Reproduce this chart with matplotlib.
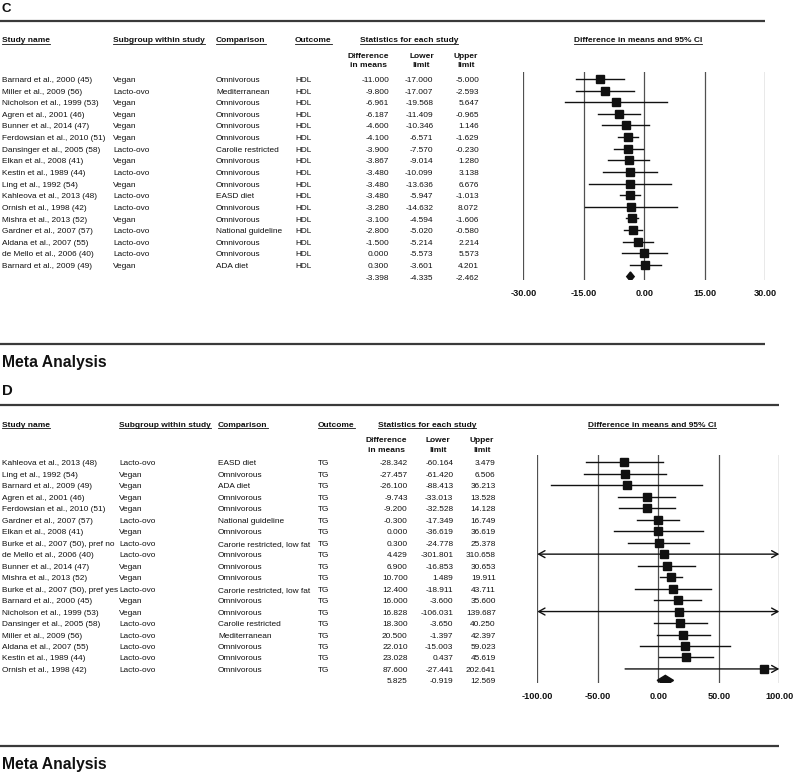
import matplotlib
matplotlib.use("Agg")
import matplotlib.pyplot as plt

plt.rcParams['font.family'] = ['Liberation Sans', 'DejaVu Sans']

# ---------------- panel C : HDL ----------------
c_study = ["Barnard et al., 2000 (45)", "Miller et al., 2009 (56)", "Nicholson et al., 1999 (53)",
           "Agren et al., 2001 (46)", "Bunner et al., 2014 (47)", "Ferdowsian et al., 2010 (51)",
           "Dansinger et al., 2005 (58)", "Elkan et al., 2008 (41)", "Kestin et al., 1989 (44)",
           "Ling et al., 1992 (54)", "Kahleova et al., 2013 (48)", "Ornish et al., 1998 (42)",
           "Mishra et al., 2013 (52)", "Gardner et al., 2007 (57)", "Aldana et al., 2007 (55)",
           "de Mello et al., 2006 (40)", "Barnard et al., 2009 (49)"]
c_subgroup = ["Vegan", "Lacto-ovo", "Vegan", "Vegan", "Vegan", "Vegan", "Lacto-ovo", "Vegan",
              "Lacto-ovo", "Vegan", "Lacto-ovo", "Lacto-ovo", "Vegan", "Lacto-ovo", "Lacto-ovo",
              "Lacto-ovo", "Vegan"]
c_comparison = ["Omnivorous", "Mediterranean", "Omnivorous", "Omnivorous", "Omnivorous",
                "Omnivorous", "Carolie restricted", "Omnivorous", "Omnivorous", "Omnivorous",
                "EASD diet", "Omnivorous", "Omnivorous", "National guideline", "Omnivorous",
                "Omnivorous", "ADA diet"]
c_diff = [-11.000, -9.800, -6.961, -6.187, -4.600, -4.100, -3.900, -3.867, -3.480, -3.480,
          -3.480, -3.280, -3.100, -2.800, -1.500, 0.000, 0.300]
c_lower = [-17.000, -17.007, -19.568, -11.409, -10.346, -6.571, -7.570, -9.014, -10.099,
           -13.636, -5.947, -14.632, -4.594, -5.020, -5.214, -5.573, -3.601]
c_upper = [-5.000, -2.593, 5.647, -0.965, 1.146, -1.629, -0.230, 1.280, 3.138, 6.676,
           -1.013, 8.072, -1.606, -0.580, 2.214, 5.573, 4.201]
c_summary = [-3.398, -4.335, -2.462]
c_ticks = [-30, -15, 0, 15, 30]

# ---------------- panel D : TG ----------------
d_study = ["Kahleova et al., 2013 (48)", "Ling et al., 1992 (54)", "Barnard et al., 2009 (49)",
           "Agren et al., 2001 (46)", "Ferdowsian et al., 2010 (51)", "Gardner et al., 2007 (57)",
           "Elkan et al., 2008 (41)", "Burke et al., 2007 (50), pref no", "de Mello et al., 2006 (40)",
           "Bunner et al., 2014 (47)", "Mishra et al., 2013 (52)", "Burke et al., 2007 (50), pref yes",
           "Barnard et al., 2000 (45)", "Nicholson et al., 1999 (53)", "Dansinger et al., 2005 (58)",
           "Miller et al., 2009 (56)", "Aldana et al., 2007 (55)", "Kestin et al., 1989 (44)",
           "Ornish et al., 1998 (42)"]
d_subgroup = ["Lacto-ovo", "Vegan", "Vegan", "Vegan", "Vegan", "Lacto-ovo", "Vegan", "Lacto-ovo",
              "Lacto-ovo", "Vegan", "Vegan", "Lacto-ovo", "Vegan", "Vegan", "Lacto-ovo",
              "Lacto-ovo", "Lacto-ovo", "Lacto-ovo", "Lacto-ovo"]
d_comparison = ["EASD diet", "Omnivorous", "ADA diet", "Omnivorous", "Omnivorous",
                "National guideline", "Omnivorous", "Carorie restricted, low fat", "Omnivorous",
                "Omnivorous", "Omnivorous", "Carorie restricted, low fat", "Omnivorous",
                "Omnivorous", "Carolie restricted", "Mediterranean", "Omnivorous", "Omnivorous",
                "Omnivorous"]
d_diff = [-28.342, -27.457, -26.100, -9.743, -9.200, -0.300, 0.000, 0.300, 4.429, 6.900,
          10.700, 12.400, 16.000, 16.828, 18.300, 20.500, 22.010, 23.028, 87.600]
d_lower = [-60.164, -61.420, -88.413, -33.013, -32.528, -17.349, -36.619, -24.778, -301.801,
           -16.853, 1.489, -18.911, -3.600, -106.031, -3.650, -1.397, -15.003, 0.437, -27.441]
d_upper = [3.479, 6.506, 36.213, 13.528, 14.128, 16.749, 36.619, 25.378, 310.658, 30.653,
           19.911, 43.711, 35.600, 139.687, 40.250, 42.397, 59.023, 45.619, 202.641]
d_summary = [5.825, -0.919, 12.569]
d_ticks = [-100, -50, 0, 50, 100]

W, H = 794, 773
TXT = '#111111'
FS = 5.95

fig = plt.figure(figsize=(W / 100, H / 100), dpi=100)
ov = fig.add_axes([0, 0, 1, 1])
ov.set_xlim(0, W)
ov.set_ylim(H, 0)
ov.axis('off')

underlined = []


def hline(y, x1):
    ov.plot([0, x1], [y, y], color='#3a3a3a', lw=1.6, solid_capstyle='butt')


def panel(letter, ytop, study, subgroup, comp, outcome, diff, lower, upper, summary,
          ticks, cols, row0, step, fx0, fx1, fy0, fy1, msize, dh):
    # letter + separator line
    ov.text(2, ytop[0], letter, fontsize=ytop[2], fontweight='bold', color=TXT, va='center')
    hline(ytop[1], fx1)

    hy = ytop[1] + 21.5
    for x, s in [(2, "Study name"), (cols['sub'], "Subgroup within study"),
                 (cols['comp'], "Comparison"), (cols['out'], "Outcome")]:
        underlined.append(ov.text(x, hy, s, fontsize=6, fontweight='bold', color=TXT,
                                  va='baseline'))
    underlined.append(ov.text(cols['stat'], hy, "Statistics for each study", fontsize=6,
                              fontweight='bold', color=TXT, va='baseline', ha='center'))
    underlined.append(ov.text((fx0 + fx1) / 2 - 6, hy, "Difference in means and 95% CI",
                              fontsize=6, fontweight='bold', color=TXT, va='baseline',
                              ha='center'))
    for cx, a, b in [(cols['h1'], "Difference", "in means"), (cols['h2'], "Lower", "limit"),
                     (cols['h3'], "Upper", "limit")]:
        ov.text(cx, hy + 15.5, a, fontsize=6, fontweight='bold', color=TXT, va='baseline',
                ha='center')
        ov.text(cx, hy + 25, b, fontsize=6, fontweight='bold', color=TXT, va='baseline',
                ha='center')

    n = len(study)
    for i in range(n):
        y = row0 + i * step + 3
        ov.text(2, y, study[i], fontsize=FS, color=TXT, va='baseline')
        ov.text(cols['sub'], y, subgroup[i], fontsize=FS, color=TXT, va='baseline')
        ov.text(cols['comp'], y, comp[i], fontsize=FS, color=TXT, va='baseline')
        ov.text(cols['out'], y, outcome, fontsize=FS, color=TXT, va='baseline')
        for key, v in [('v1', diff[i]), ('v2', lower[i]), ('v3', upper[i])]:
            ov.text(cols[key], y, "%.3f" % v, fontsize=FS, color=TXT, va='baseline',
                    ha='right')
    y = row0 + n * step + 3
    for key, v in zip(['v1', 'v2', 'v3'], summary):
        ov.text(cols[key], y, "%.3f" % v, fontsize=FS, color=TXT, va='baseline', ha='right')

    # forest axes
    ax = fig.add_axes([fx0 / W, 1 - fy1 / H, (fx1 - fx0) / W, (fy1 - fy0) / H])
    ax.patch.set_visible(False)
    lo, hi = ticks[0], ticks[-1]
    ax.set_xlim(lo, hi)
    ax.set_ylim((fy1 - row0) / step, (fy0 - row0) / step)
    for s in ax.spines.values():
        s.set_visible(False)
    ax.set_yticks([])
    ax.set_xticks(ticks)
    ax.set_xticklabels(["%.2f" % t for t in ticks], fontsize=6.6, fontweight='bold', color=TXT)
    ax.tick_params(axis='x', length=0, pad=6.5)
    for t in ticks:
        ax.axvline(t, color='#505050', lw=0.9, zorder=1)

    for i in range(n):
        l, u = lower[i], upper[i]
        if l < lo or u > hi:
            style = '<->' if (l < lo and u > hi) else '->'
            if l < lo and u <= hi:
                style = '<-'
            ax.annotate('', xy=(min(u, hi), i), xytext=(max(l, lo), i),
                        arrowprops=dict(arrowstyle=style + ',head_length=0.45,head_width=0.25',
                                        color='#111111', lw=1.0, shrinkA=0, shrinkB=0),
                        zorder=2)
        else:
            ax.plot([l, u], [i, i], color='#111111', lw=1.0, zorder=2)
        ax.plot(diff[i], i, marker='s', ms=msize, color='#111111', mec='#111111', zorder=3)

    est, sl, su = summary
    ax.fill([sl, est, su, est], [n, n - dh, n, n + dh], color='#111111', zorder=3)


c_cols = dict(sub=113, comp=216, out=295, stat=409, h1=368, h2=421.5, h3=466,
              v1=389, v2=433.3, v3=479)
panel("C", (9, 20.7, 9.5), c_study, c_subgroup, c_comparison, "HDL", c_diff, c_lower, c_upper,
      c_summary, c_ticks, c_cols, 79, 11.625, 523.3, 765, 72, 280, 6.0, 0.4)
hline(343.5, 765)
ov.text(2, 362, "Meta Analysis", fontsize=11.3, fontweight='bold', color=TXT, va='center')

d_cols = dict(sub=119, comp=218, out=318, stat=426.7, h1=386.7, h2=438, h3=481.7,
              v1=407.7, v2=453.3, v3=495.7)
panel("D", (390.7, 405.3, 10.7), d_study, d_subgroup, d_comparison, "TG", d_diff, d_lower,
      d_upper, d_summary, d_ticks, d_cols, 462.3, 11.48, 537.3, 779.3, 455, 683.3, 6.2, 0.44)
hline(745.7, 779)
ov.text(2, 764, "Meta Analysis", fontsize=11.3, fontweight='bold', color=TXT, va='center')

# underline the column headers
fig.canvas.draw()
r = fig.canvas.get_renderer()
inv = ov.transData.inverted()
for t in underlined:
    bb = t.get_window_extent(r)
    x0, _ = inv.transform((bb.x0, bb.y0))
    x1, _ = inv.transform((bb.x1, bb.y0))
    yb = t.get_position()[1] + 1.3
    ov.plot([x0, x1], [yb, yb], color=TXT, lw=0.6)

fig.savefig("out.png", dpi=100)
